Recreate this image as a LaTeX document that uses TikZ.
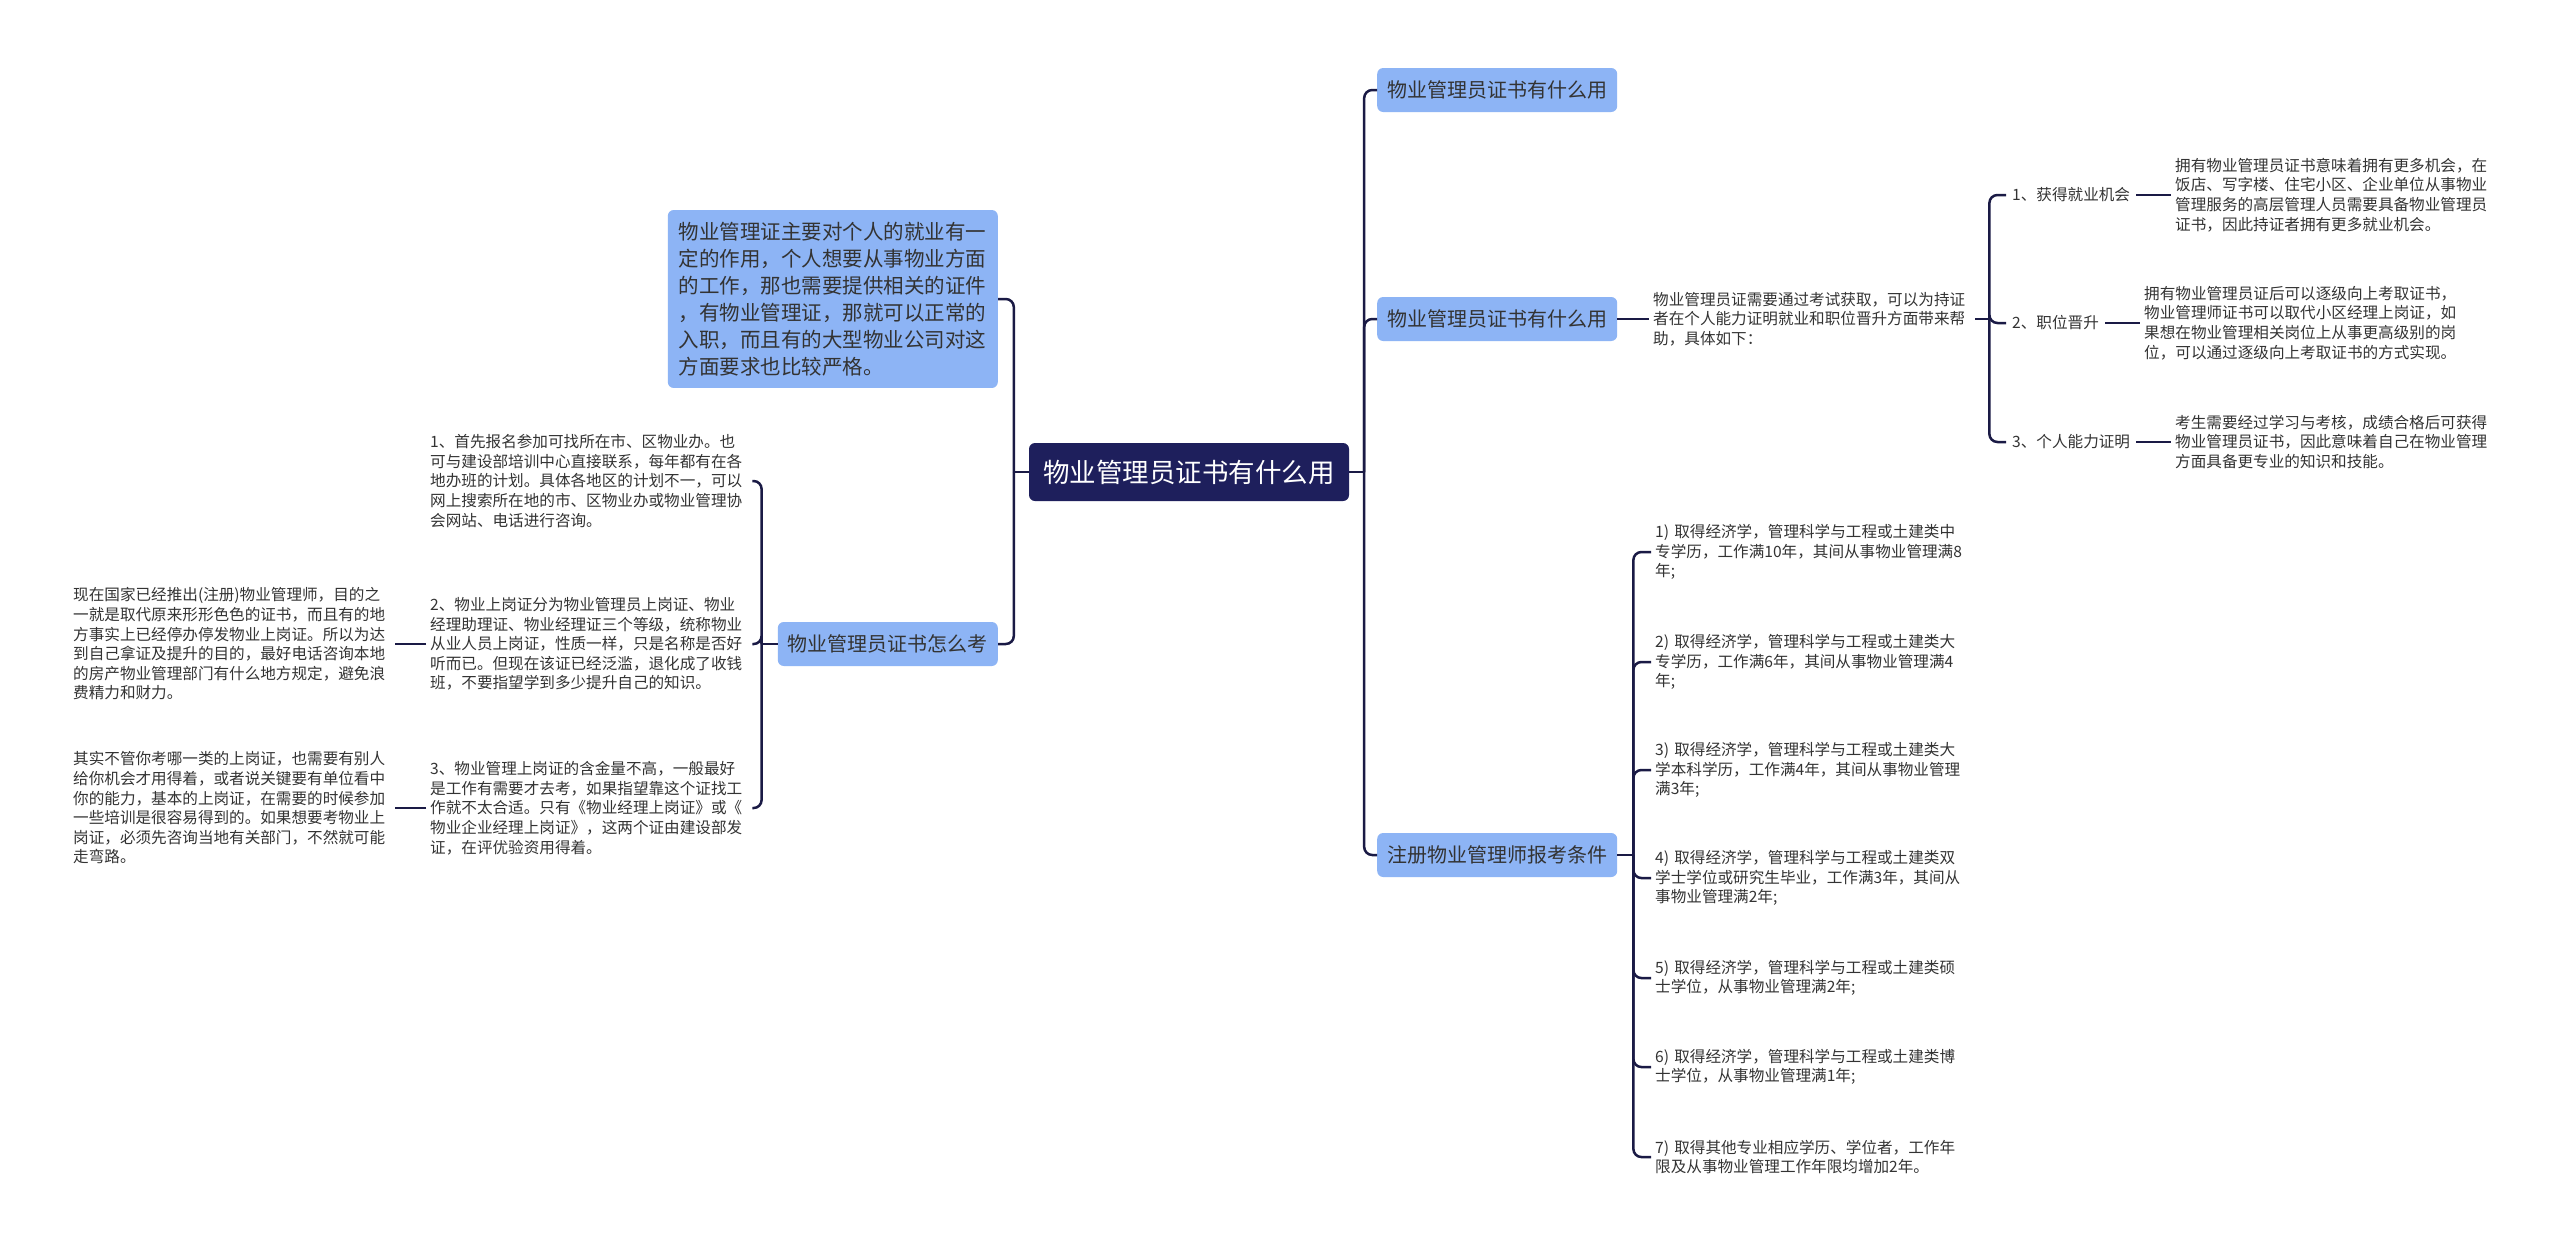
\documentclass[tikz,border=0pt]{standalone}
\usepackage{fontspec}
\setmainfont{Noto Sans CJK SC}
\usepackage{xcolor}
\usepackage{tikz}
\usetikzlibrary{calc}
\definecolor{navy}{HTML}{1E1F5C}
\definecolor{linecol}{HTML}{1A1A45}
\definecolor{boxblue}{HTML}{8DB4F5}
\definecolor{textgray}{HTML}{333333}

\begin{document}
\begin{tikzpicture}[x=1pt, y=-1pt,
    rootbox/.style={fill=navy, text=white, rounded corners=6pt, font=\fontsize{26.5}{30}\selectfont,
      minimum width=320, minimum height=58, inner sep=0},
    firstbox/.style={fill=boxblue, text=textgray, rounded corners=6pt, font=\fontsize{20}{24}\selectfont,
      minimum height=44, inner xsep=10, inner ysep=0},
    bluebox/.style={fill=boxblue, text=textgray, rounded corners=6pt, font=\fontsize{20.5}{27}\selectfont,
      text width=308, align=left, inner xsep=11, inner ysep=12},
    leaf/.style={text=textgray, font=\fontsize{15.6}{19.6}\selectfont, text width=318, align=left, inner sep=4},
    tag/.style={text=textgray, font=\fontsize{15.6}{19.6}\selectfont, inner sep=6},
    link/.style={draw=linecol, line width=2.5, rounded corners=8}
]

  % Rahmen
  \fill[white] (0,0) rectangle (2560,1251);
  \useasboundingbox (0,0) rectangle (2560,1251);

  % Wurzel
  \node[rootbox] (root) at (1189,472) {物业管理员证书有什么用};

  % rechte Seite, erste Ebene
  \node[firstbox, anchor=west] (use1) at (1377,90) {物业管理员证书有什么用};
  \node[firstbox, anchor=west] (use2) at (1377,319) {物业管理员证书有什么用};
  \node[firstbox, anchor=west] (cond) at (1377,855) {注册物业管理师报考条件};

  % linke Seite, erste Ebene
  \node[bluebox, anchor=east] (intro) at (998,299) {物业管理证主要对个人的就业有一\\定的作用，个人想要从事物业方面\\的工作，那也需要提供相关的证件\\，有物业管理证，那就可以正常的\\入职，而且有的大型物业公司对这\\方面要求也比较严格。};
  \node[firstbox, anchor=east] (exam) at (998,644) {物业管理员证书怎么考};

  % Wie man die Prüfung macht
  \node[leaf, anchor=west] (step1) at (426,481) {1、首先报名参加可找所在市、区物业办。也\\可与建设部培训中心直接联系，每年都有在各\\地办班的计划。具体各地区的计划不一，可以\\网上搜索所在地的市、区物业办或物业管理协\\会网站、电话进行咨询。};
  \node[leaf, anchor=west] (step2) at (426,644) {2、物业上岗证分为物业管理员上岗证、物业\\经理助理证、物业经理证三个等级，统称物业\\从业人员上岗证，性质一样，只是名称是否好\\听而已。但现在该证已经泛滥，退化成了收钱\\班，不要指望学到多少提升自己的知识。};
  \node[leaf, anchor=west] (step3) at (426,808) {3、物业管理上岗证的含金量不高，一般最好\\是工作有需要才去考，如果指望靠这个证找工\\作就不太合适。只有《物业经理上岗证》或《\\物业企业经理上岗证》，这两个证由建设部发\\证，在评优验资用得着。};
  \node[leaf, anchor=west] (note1) at (69,644) {现在国家已经推出(注册)物业管理师，目的之\\一就是取代原来形形色色的证书，而且有的地\\方事实上已经停办停发物业上岗证。所以为达\\到自己拿证及提升的目的，最好电话咨询本地\\的房产物业管理部门有什么地方规定，避免浪\\费精力和财力。};
  \node[leaf, anchor=west] (note2) at (69,808) {其实不管你考哪一类的上岗证，也需要有别人\\给你机会才用得着，或者说关键要有单位看中\\你的能力，基本的上岗证，在需要的时候参加\\一些培训是很容易得到的。如果想要考物业上\\岗证，必须先咨询当地有关部门，不然就可能\\走弯路。};

  % Nutzen des Zertifikats
  \node[leaf, anchor=west] (gain) at (1649,319) {物业管理员证需要通过考试获取，可以为持证\\者在个人能力证明就业和职位晋升方面带来帮\\助，具体如下：};
  \node[tag, anchor=west] (job) at (2006,195) {1、获得就业机会};
  \node[tag, anchor=west] (rise) at (2006,323) {2、职位晋升};
  \node[tag, anchor=west] (skill) at (2006,442) {3、个人能力证明};
  \node[leaf, anchor=west] (jobtxt) at (2171,195) {拥有物业管理员证书意味着拥有更多机会，在\\饭店、写字楼、住宅小区、企业单位从事物业\\管理服务的高层管理人员需要具备物业管理员\\证书，因此持证者拥有更多就业机会。};
  \node[leaf, anchor=west] (risetxt) at (2140,323) {拥有物业管理员证后可以逐级向上考取证书，\\物业管理师证书可以取代小区经理上岗证，如\\果想在物业管理相关岗位上从事更高级别的岗\\位，可以通过逐级向上考取证书的方式实现。};
  \node[leaf, anchor=west] (skilltxt) at (2171,442) {考生需要经过学习与考核，成绩合格后可获得\\物业管理员证书，因此意味着自己在物业管理\\方面具备更专业的知识和技能。};

  % Zulassungsbedingungen
  \node[leaf, anchor=west] (c1) at (1651,552) {1) 取得经济学，管理科学与工程或土建类中\\专学历，工作满10年，其间从事物业管理满8\\年;};
  \node[leaf, anchor=west] (c2) at (1651,662) {2) 取得经济学，管理科学与工程或土建类大\\专学历，工作满6年，其间从事物业管理满4\\年;};
  \node[leaf, anchor=west] (c3) at (1651,770) {3) 取得经济学，管理科学与工程或土建类大\\学本科学历，工作满4年，其间从事物业管理\\满3年;};
  \node[leaf, anchor=west] (c4) at (1651,878) {4) 取得经济学，管理科学与工程或土建类双\\学士学位或研究生毕业，工作满3年，其间从\\事物业管理满2年;};
  \node[leaf, anchor=west] (c5) at (1651,978) {5) 取得经济学，管理科学与工程或土建类硕\\士学位，从事物业管理满2年;};
  \node[leaf, anchor=west] (c6) at (1651,1067) {6) 取得经济学，管理科学与工程或土建类博\\士学位，从事物业管理满1年;};
  \node[leaf, anchor=west] (c7) at (1651,1157) {7) 取得其他专业相应学历、学位者，工作年\\限及从事物业管理工作年限均增加2年。};

  % Verbindungen
  \coordinate (rootR) at ($(root.east)+(15,0)$);
  \coordinate (rootL) at ($(root.west)+(-15,0)$);
  \coordinate (examL) at ($(exam.west)+(-16,0)$);
  \coordinate (gainR) at ($(gain.east)+(14,0)$);
  \coordinate (condR) at ($(cond.east)+(16,0)$);

  \draw[link] (root.east) -- (rootR);
  \foreach \n in {use1,use2,cond} \draw[link] (rootR) |- (\n.west);
  \draw[link] (root.west) -- (rootL);
  \foreach \n in {intro,exam} \draw[link] (rootL) |- (\n.east);

  \draw[link] (exam.west) -- (examL);
  \foreach \n in {step1,step2,step3} \draw[link] (examL) |- (\n.east);
  \draw[link] (step2.west) -- (note1.east);
  \draw[link] (step3.west) -- (note2.east);

  \draw[link] (use2.east) -- (gain.west);
  \draw[link] (gain.east) -- (gainR);
  \foreach \n in {job,rise,skill} \draw[link] (gainR) |- (\n.west);
  \draw[link] (job.east) -- (jobtxt.west);
  \draw[link] (rise.east) -- (risetxt.west);
  \draw[link] (skill.east) -- (skilltxt.west);

  \draw[link] (cond.east) -- (condR);
  \foreach \n in {c1,c2,c3,c4,c5,c6,c7} \draw[link] (condR) |- (\n.west);

\end{tikzpicture}
\end{document}
